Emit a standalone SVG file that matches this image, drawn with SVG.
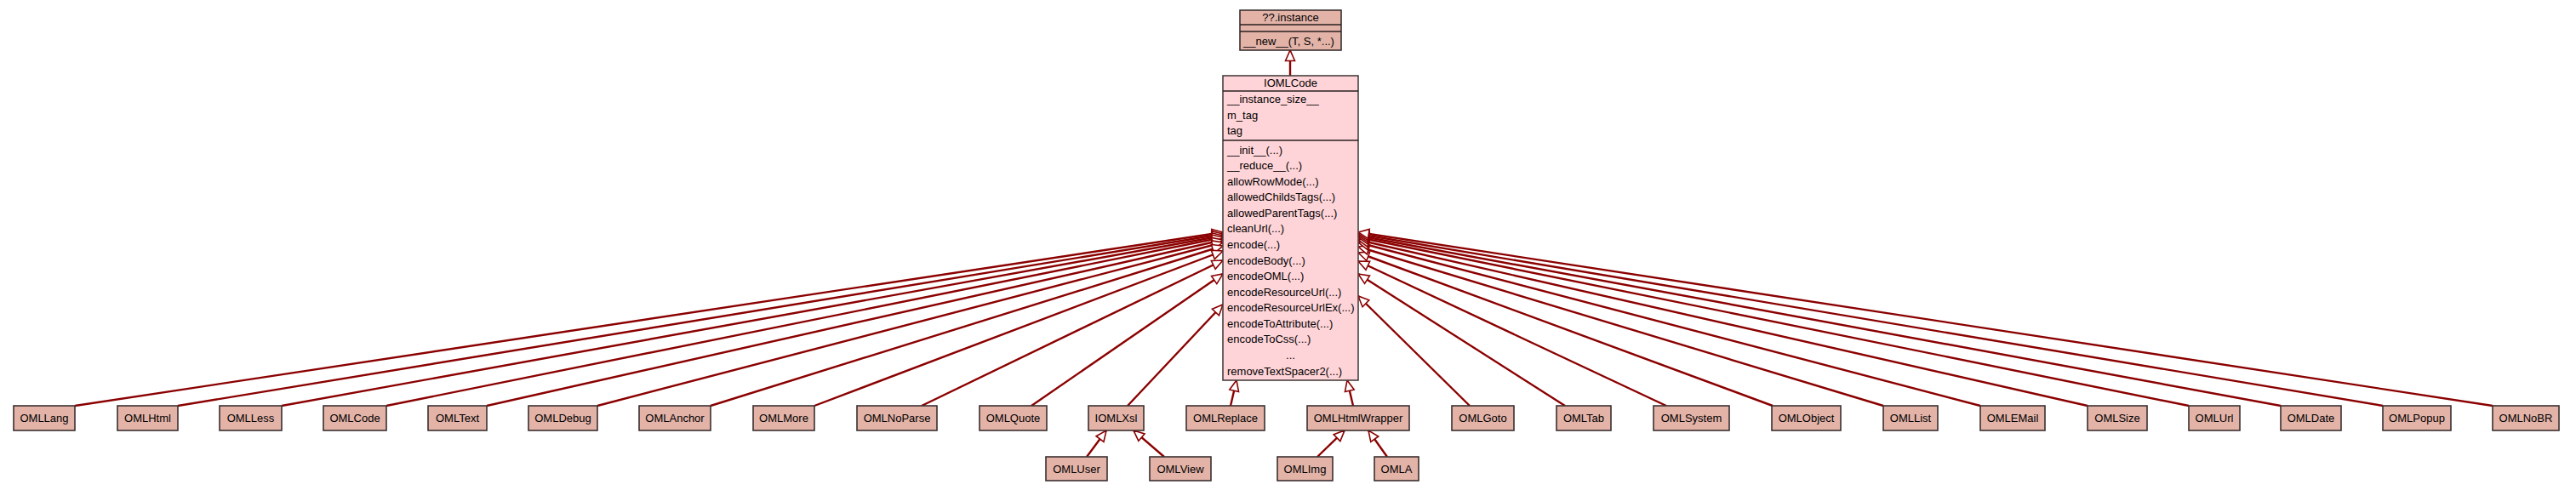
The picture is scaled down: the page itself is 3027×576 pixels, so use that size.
<svg xmlns="http://www.w3.org/2000/svg" width="3027" height="576" viewBox="0 0 3027 576">
<style>
text{font-family:"Liberation Sans",Arial,sans-serif;font-size:13px;fill:#000}
.n rect{fill:#e3b3a8;stroke:#3a3030;stroke-width:1.6}
.n text{text-anchor:middle}
.c rect{fill:#ffd4d8;stroke:#4a4040;stroke-width:1.6}
.sep{stroke:#2a2020;stroke-width:1.4}
.e line{stroke:#8b0000;stroke-width:2.4;marker-end:url(#tri)}
</style>
<defs>
<marker id="tri" markerUnits="userSpaceOnUse" markerWidth="16" markerHeight="14" refX="14" refY="7" orient="auto">
<path d="M1.5,1.5 L14,7 L1.5,12.5 Z" fill="#fff" stroke="#8b0000" stroke-width="1.6"/>
</marker>
</defs>
<rect width="3027" height="576" fill="#fff"/>
<g class="e">
<line x1="1516" y1="89" x2="1516" y2="59"/>
<line x1="88" y1="477" x2="1437" y2="273"/>
<line x1="209" y1="477" x2="1437" y2="275"/>
<line x1="331" y1="477" x2="1437" y2="277"/>
<line x1="454" y1="477" x2="1437" y2="279"/>
<line x1="572" y1="477" x2="1437" y2="282"/>
<line x1="702" y1="477" x2="1437" y2="285"/>
<line x1="835" y1="477" x2="1437" y2="289"/>
<line x1="957" y1="477" x2="1437" y2="295"/>
<line x1="1083" y1="477" x2="1437" y2="306"/>
<line x1="1212" y1="477" x2="1437" y2="322"/>
<line x1="1325" y1="477" x2="1437" y2="358"/>
<line x1="1446" y1="477" x2="1453" y2="447"/>
<line x1="1590" y1="477" x2="1583" y2="447"/>
<line x1="1727" y1="477" x2="1596" y2="348"/>
<line x1="1839" y1="477" x2="1596" y2="322"/>
<line x1="1958" y1="477" x2="1596" y2="307"/>
<line x1="2083" y1="477" x2="1596" y2="297"/>
<line x1="2213" y1="477" x2="1596" y2="290"/>
<line x1="2327" y1="477" x2="1596" y2="285"/>
<line x1="2453" y1="477" x2="1596" y2="282"/>
<line x1="2572" y1="477" x2="1596" y2="279"/>
<line x1="2680" y1="477" x2="1596" y2="277"/>
<line x1="2800" y1="477" x2="1596" y2="275"/>
<line x1="2929" y1="477" x2="1596" y2="273"/>
<line x1="1277" y1="537" x2="1300" y2="506"/>
<line x1="1368" y1="537" x2="1332" y2="506"/>
<line x1="1548" y1="537" x2="1580" y2="506"/>
<line x1="1630" y1="537" x2="1608" y2="506"/>
</g>
<g id="instance" class="n">
<rect x="1457" y="12" width="119" height="47"/>
<line class="sep" x1="1457" y1="29" x2="1576" y2="29"/>
<line class="sep" x1="1457" y1="37" x2="1576" y2="37"/>
<text x="1516.5" y="25">??.instance</text>
<text x="1461" y="52.5" style="text-anchor:start">__new__(T, S, *...)</text>
</g>
<g id="IOMLCode" class="c">
<rect x="1437" y="89" width="159" height="358"/>
<line class="sep" x1="1437" y1="107" x2="1596" y2="107"/>
<line class="sep" x1="1437" y1="165" x2="1596" y2="165"/>
<text x="1516.5" y="101.5" text-anchor="middle">IOMLCode</text>
<text x="1442" y="120.5">__instance_size__</text>
<text x="1442" y="139.5">m_tag</text>
<text x="1442" y="157.5">tag</text>
<text x="1442" y="180.5">__init__(...)</text>
<text x="1442" y="199">__reduce__(...)</text>
<text x="1442" y="217.5">allowRowMode(...)</text>
<text x="1442" y="236">allowedChildsTags(...)</text>
<text x="1442" y="254.8">allowedParentTags(...)</text>
<text x="1442" y="273.4">cleanUrl(...)</text>
<text x="1442" y="292">encode(...)</text>
<text x="1442" y="310.5">encodeBody(...)</text>
<text x="1442" y="329">encodeOML(...)</text>
<text x="1442" y="347.6">encodeResourceUrl(...)</text>
<text x="1442" y="366.2">encodeResourceUrlEx(...)</text>
<text x="1442" y="384.8">encodeToAttribute(...)</text>
<text x="1442" y="403.4">encodeToCss(...)</text>
<text x="1516.5" y="422" text-anchor="middle">...</text>
<text x="1442" y="440.5">removeTextSpacer2(...)</text>
</g>
<g id="OMLLang" class="n"><rect x="16" y="477" width="72" height="29"/><text x="52" y="496">OMLLang</text></g>
<g id="OMLHtml" class="n"><rect x="138" y="477" width="71" height="29"/><text x="173.5" y="496">OMLHtml</text></g>
<g id="OMLLess" class="n"><rect x="258" y="477" width="73" height="29"/><text x="294.5" y="496">OMLLess</text></g>
<g id="OMLCode" class="n"><rect x="380" y="477" width="74" height="29"/><text x="417" y="496">OMLCode</text></g>
<g id="OMLText" class="n"><rect x="503" y="477" width="69" height="29"/><text x="537.5" y="496">OMLText</text></g>
<g id="OMLDebug" class="n"><rect x="621" y="477" width="81" height="29"/><text x="661.5" y="496">OMLDebug</text></g>
<g id="OMLAnchor" class="n"><rect x="751" y="477" width="84" height="29"/><text x="793" y="496">OMLAnchor</text></g>
<g id="OMLMore" class="n"><rect x="885" y="477" width="72" height="29"/><text x="921" y="496">OMLMore</text></g>
<g id="OMLNoParse" class="n"><rect x="1007" y="477" width="94" height="29"/><text x="1054" y="496">OMLNoParse</text></g>
<g id="OMLQuote" class="n"><rect x="1151" y="477" width="79" height="29"/><text x="1190.5" y="496">OMLQuote</text></g>
<g id="IOMLXsl" class="n"><rect x="1279" y="477" width="65" height="29"/><text x="1311.5" y="496">IOMLXsl</text></g>
<g id="OMLReplace" class="n"><rect x="1394" y="477" width="92" height="29"/><text x="1440" y="496">OMLReplace</text></g>
<g id="OMLHtmlWrapper" class="n"><rect x="1536" y="477" width="120" height="29"/><text x="1596" y="496">OMLHtmlWrapper</text></g>
<g id="OMLGoto" class="n"><rect x="1706" y="477" width="73" height="29"/><text x="1742.5" y="496">OMLGoto</text></g>
<g id="OMLTab" class="n"><rect x="1829" y="477" width="64" height="29"/><text x="1861" y="496">OMLTab</text></g>
<g id="OMLSystem" class="n"><rect x="1943" y="477" width="89" height="29"/><text x="1987.5" y="496">OMLSystem</text></g>
<g id="OMLObject" class="n"><rect x="2082" y="477" width="81" height="29"/><text x="2122.5" y="496">OMLObject</text></g>
<g id="OMLList" class="n"><rect x="2213" y="477" width="64" height="29"/><text x="2245" y="496">OMLList</text></g>
<g id="OMLEMail" class="n"><rect x="2327" y="477" width="76" height="29"/><text x="2365" y="496">OMLEMail</text></g>
<g id="OMLSize" class="n"><rect x="2453" y="477" width="70" height="29"/><text x="2488" y="496">OMLSize</text></g>
<g id="OMLUrl" class="n"><rect x="2572" y="477" width="60" height="29"/><text x="2602" y="496">OMLUrl</text></g>
<g id="OMLDate" class="n"><rect x="2680" y="477" width="71" height="29"/><text x="2715.5" y="496">OMLDate</text></g>
<g id="OMLPopup" class="n"><rect x="2800" y="477" width="80" height="29"/><text x="2840" y="496">OMLPopup</text></g>
<g id="OMLNoBR" class="n"><rect x="2929" y="477" width="78" height="29"/><text x="2968" y="496">OMLNoBR</text></g>
<g id="OMLUser" class="n"><rect x="1229" y="537" width="72" height="28"/><text x="1265" y="555.5">OMLUser</text></g>
<g id="OMLView" class="n"><rect x="1351" y="537" width="72" height="28"/><text x="1387" y="555.5">OMLView</text></g>
<g id="OMLImg" class="n"><rect x="1501" y="537" width="65" height="28"/><text x="1533.5" y="555.5">OMLImg</text></g>
<g id="OMLA" class="n"><rect x="1615" y="537" width="52" height="28"/><text x="1641" y="555.5">OMLA</text></g>
</svg>
